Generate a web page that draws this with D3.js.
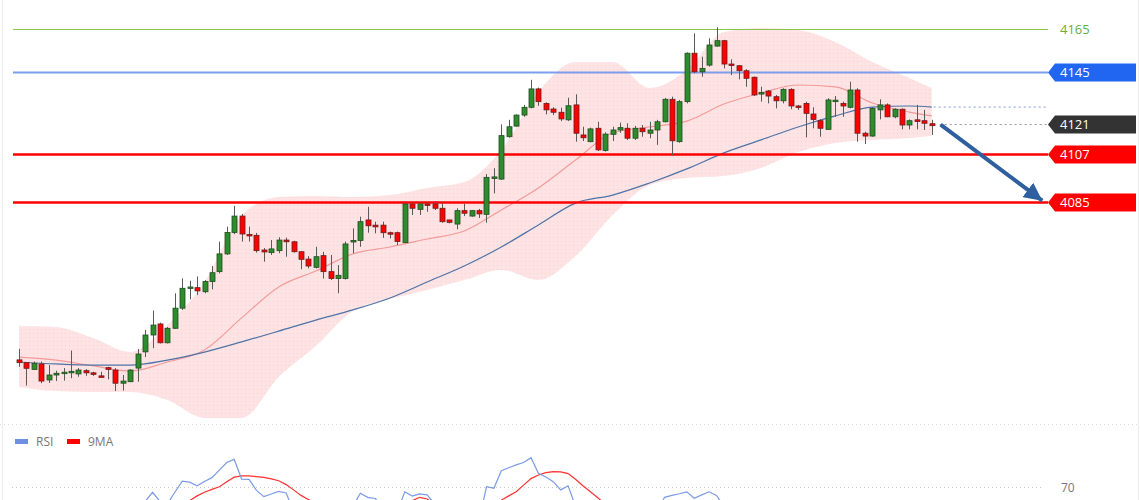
<!DOCTYPE html>
<html>
<head>
<meta charset="utf-8">
<script src="https://cdn.jsdelivr.net/npm/d3@7"></script>
<style>
  html, body { margin: 0; padding: 0; background: #fff; }
  svg { display: block; font-family: "Open Sans", "Noto Sans", sans-serif; }
</style>
</head>
<body>
<div id="chart"></div>
<script>
// candle data, one entry per bar
var candleOpen = [
  4012.0, 4010.7, 4007.6, 4010.1, 4002.7, 4005.0, 4006.0, 4006.4, 4005.5, 4007.0,
  4006.0, 4004.6, 4008.4, 4007.3, 4001.2, 4001.9, 4008.2, 4015.7, 4023.5, 4028.6,
  4019.9, 4026.6, 4035.9, 4045.4, 4045.4, 4043.5, 4048.2, 4052.8, 4061.0, 4070.9,
  4078.5, 4070.0, 4069.6, 4062.8, 4061.6, 4062.5, 4067.4, 4066.6, 4062.0, 4058.6,
  4054.8, 4060.2, 4052.8, 4049.6, 4049.6, 4066.9, 4067.2, 4076.7, 4074.3, 4074.3,
  4070.8, 4070.8, 4066.2, 4084.1, 4081.6, 4084.1, 4084.1, 4082.1, 4076.7, 4074.8,
  4081.0, 4078.5, 4081.0, 4079.3, 4096.2, 4095.6, 4115.2, 4120.1, 4125.2, 4128.8,
  4137.3, 4130.6, 4128.0, 4126.5, 4123.0, 4129.9, 4116.0, 4112.9, 4119.1, 4108.8,
  4116.3, 4118.3, 4119.1, 4114.5, 4119.1, 4116.8, 4118.3, 4122.1, 4132.5, 4112.9,
  4131.4, 4153.8, 4145.2, 4148.3, 4157.1, 4159.6, 4148.8, 4148.0, 4145.7, 4142.7,
  4135.4, 4136.3, 4133.7, 4131.8, 4137.1, 4129.4, 4130.6, 4125.7, 4122.6, 4118.6,
  4131.9, 4130.6, 4128.8, 4136.8, 4116.8, 4115.5, 4127.6, 4129.9, 4124.4, 4127.9,
  4120.6, 4123.0, 4122.6, 4121.2
];
var candleHigh = [
  4017.1, 4011.0, 4011.2, 4011.2, 4009.6, 4007.0, 4008.2, 4016.3, 4008.2, 4007.7,
  4006.5, 4006.5, 4008.8, 4008.2, 4005.0, 4007.7, 4017.0, 4025.8, 4034.8, 4029.2,
  4027.2, 4042.8, 4049.7, 4048.6, 4050.6, 4048.9, 4055.4, 4066.7, 4073.6, 4083.2,
  4079.5, 4073.6, 4070.7, 4063.7, 4067.4, 4068.7, 4068.5, 4067.1, 4062.3, 4060.0,
  4064.3, 4062.0, 4060.5, 4055.8, 4066.7, 4072.8, 4078.2, 4082.8, 4075.9, 4075.9,
  4071.3, 4071.3, 4085.1, 4084.4, 4084.4, 4084.4, 4085.4, 4084.4, 4076.7, 4082.1,
  4084.1, 4081.0, 4081.8, 4097.9, 4100.6, 4120.9, 4123.0, 4125.5, 4129.9, 4141.5,
  4137.9, 4131.1, 4128.8, 4128.6, 4133.2, 4134.8, 4119.8, 4119.4, 4122.1, 4117.2,
  4119.8, 4121.7, 4121.4, 4120.2, 4120.6, 4122.1, 4123.0, 4133.1, 4133.7, 4132.2,
  4154.2, 4163.0, 4152.2, 4160.7, 4165.8, 4160.0, 4151.0, 4148.3, 4146.4, 4143.0,
  4138.3, 4136.8, 4134.5, 4137.6, 4137.6, 4129.9, 4131.4, 4128.8, 4123.2, 4133.0,
  4134.0, 4131.4, 4140.6, 4137.6, 4117.5, 4128.8, 4132.5, 4130.6, 4128.3, 4128.3,
  4123.2, 4129.9, 4127.6, 4123.0
];
var candleLow = [
  4008.8, 4000.1, 4007.3, 4001.2, 4001.3, 4002.2, 4002.4, 4003.5, 4004.2, 4004.6,
  4004.6, 4004.1, 4003.0, 3997.6, 3997.8, 4001.7, 4001.9, 4013.3, 4017.4, 4019.6,
  4019.6, 4026.3, 4035.1, 4040.0, 4042.0, 4042.8, 4044.6, 4052.0, 4060.5, 4070.1,
  4066.7, 4066.7, 4061.6, 4057.4, 4060.5, 4061.3, 4059.7, 4061.6, 4053.9, 4054.3,
  4054.3, 4049.6, 4048.9, 4042.8, 4049.1, 4061.3, 4064.3, 4070.8, 4070.5, 4068.4,
  4068.2, 4065.1, 4066.0, 4079.0, 4079.0, 4080.5, 4081.3, 4075.4, 4075.1, 4072.4,
  4078.5, 4078.2, 4077.6, 4075.4, 4089.0, 4095.2, 4114.7, 4119.8, 4124.4, 4128.3,
  4129.5, 4125.5, 4125.2, 4122.4, 4122.4, 4112.9, 4113.2, 4112.6, 4108.6, 4108.3,
  4113.2, 4117.0, 4113.7, 4113.7, 4115.2, 4114.5, 4111.4, 4121.8, 4106.7, 4112.4,
  4130.6, 4144.5, 4142.9, 4147.6, 4156.8, 4146.8, 4143.7, 4141.7, 4138.3, 4134.0,
  4131.4, 4130.6, 4128.3, 4130.6, 4127.9, 4127.6, 4114.9, 4119.1, 4115.2, 4118.3,
  4124.4, 4124.4, 4128.3, 4112.9, 4111.8, 4115.2, 4123.2, 4124.2, 4123.7, 4118.6,
  4118.6, 4118.6, 4118.3, 4116.0
];
var candleClose = [
  4010.7, 4008.1, 4010.4, 4002.2, 4005.0, 4005.8, 4006.3, 4006.7, 4007.3, 4006.0,
  4005.8, 4004.4, 4007.6, 4001.2, 4002.2, 4007.3, 4014.7, 4023.5, 4028.1, 4019.9,
  4026.6, 4035.9, 4045.1, 4045.7, 4043.9, 4048.2, 4052.3, 4061.0, 4070.9, 4078.5,
  4070.2, 4069.4, 4062.5, 4061.9, 4063.3, 4067.4, 4066.6, 4062.0, 4058.5, 4055.4,
  4059.7, 4052.8, 4049.6, 4051.1, 4065.6, 4067.2, 4075.9, 4074.0, 4073.5, 4070.8,
  4070.5, 4066.7, 4084.1, 4082.1, 4084.1, 4084.0, 4082.1, 4075.9, 4075.6, 4081.0,
  4079.8, 4081.0, 4079.5, 4096.4, 4096.6, 4115.7, 4119.8, 4125.2, 4128.8, 4137.3,
  4131.4, 4127.6, 4126.5, 4123.4, 4129.5, 4116.8, 4114.7, 4118.8, 4109.1, 4116.4,
  4118.3, 4119.4, 4114.5, 4119.1, 4117.5, 4118.3, 4122.1, 4132.5, 4113.3, 4131.4,
  4153.8, 4145.2, 4146.8, 4157.6, 4159.6, 4148.8, 4148.3, 4145.7, 4142.2, 4134.5,
  4135.6, 4134.0, 4131.8, 4137.1, 4129.4, 4128.8, 4126.0, 4123.2, 4119.1, 4132.2,
  4132.1, 4129.4, 4136.8, 4116.8, 4115.5, 4128.3, 4129.9, 4124.4, 4127.9, 4120.6,
  4122.6, 4122.2, 4121.4, 4120.3
];

// bollinger band and moving averages, read at every 5th bar
var bandIndex = [0, 5, 10, 15, 20, 25, 30, 35, 40, 45, 50, 55, 60, 65, 70, 75, 80, 85, 90, 95, 100, 105, 110, 115, 120, 123];
var bandUpper = [4027.7, 4027.2, 4022.1, 4015.6, 4028.1, 4048.0, 4079.0, 4087.3, 4087.8, 4087.3, 4088.2, 4091.5, 4094.2,
                 4109.0, 4135.9, 4149.7, 4149.7, 4137.7, 4146.0, 4163.6, 4165.5, 4164.5, 4159.0, 4149.7, 4142.3, 4137.7];
var bandLower = [3999.5, 3997.6, 3997.1, 3997.1, 3993.4, 3985.1, 3985.1, 4004.1, 4018.4, 4034.6, 4040.1, 4044.3, 4048.9,
                 4053.6, 4048.9, 4060.0, 4079.0, 4092.9, 4096.1, 4097.0, 4100.7, 4108.1, 4112.3, 4113.7, 4114.6, 4115.5];
var maFast = [4013.3, 4011.9, 4009.2, 4006.8, 4011.0, 4016.6, 4031.4, 4045.7, 4053.1, 4061.0, 4064.2, 4067.9, 4071.6,
              4081.3, 4091.5, 4104.4, 4116.9, 4119.7, 4122.4, 4130.3, 4135.4, 4139.1, 4138.2, 4130.8, 4126.6, 4124.8];
var maSlow = [4011.0, 4010.1, 4009.6, 4009.6, 4011.9, 4015.6, 4020.3, 4025.3, 4030.4, 4035.1, 4040.6, 4048.0, 4055.4,
              4064.2, 4074.4, 4084.5, 4088.2, 4093.8, 4100.3, 4107.7, 4113.7, 4119.7, 4124.8, 4128.9, 4129.4, 4128.9];
var maSlowLast = 4128.9;

// price levels on the right
var levelValues = [4165, 4145, 4121, 4107, 4085];
var levelNames = ['4165', '4145', '4121', '4107', '4085'];
var levelKinds = ['target', 'resist', 'last', 'support', 'support'];

// projected move (bar index, price)
var projFrom = [124.2, 4120.8];
var projTo = [137.9, 4085.6];

// RSI panel
var rsiValues = [
  48, 45, 47, 42, 44, 45, 46, 46, 48, 47, 47, 46, 48, 40, 42, 48, 56, 64, 67.8, 64,
  63, 67.8, 72.4, 72, 70.5, 72.3, 73.9, 77, 80.2, 81.5, 73.3, 73.2, 68.6, 66, 67.1, 68.2, 67.5, 60, 55, 52,
  54, 50, 48, 50, 58, 62, 67.4, 65.7, 65.2, 62, 58, 60, 68, 66.2, 67.1, 66.7, 63, 58, 52, 55,
  57, 55, 56, 70.1, 69.5, 76.8, 78, 79.2, 80.2, 82.2, 75.7, 74.2, 72.2, 68.8, 70.5, 62, 58, 60, 55, 57,
  58, 59, 56, 58, 57, 59, 60, 65.7, 66.5, 67.2, 68, 65.3, 66.7, 68, 66.5, 62, 58, 56, 54, 50,
  50, 49, 48, 50, 47, 47, 45, 44, 43, 50, 50, 49, 52, 42, 42, 47, 48, 46, 47, 44,
  45, 45, 44, 43
];
var rsiMa = [
  50, 49, 48, 47, 46, 46, 46, 45, 45, 45, 45, 46, 46, 45, 45, 46, 48, 50, 53, 56,
  58, 60, 62, 64.3, 66.3, 67.8, 69.0, 70.1, 72.2, 74.1, 74.6, 74.6, 74.3, 74.0, 73.4, 72.6, 71.0, 68.8, 66.5, 64.8,
  63, 61, 59, 57, 56, 56, 56, 57, 58, 59, 60, 61, 62, 64.3, 65.7, 65.0, 63, 61, 60, 59,
  58, 58, 59, 61, 63, 64.5, 66.3, 68.0, 70.8, 73.5, 75.0, 76.0, 76.4, 76.3, 75.6, 73.2, 70.5, 68.0, 65.5, 63,
  61, 59, 58, 58, 57, 57, 58, 59, 60, 61, 62, 63, 63, 63, 62, 61, 60, 59, 58, 56,
  55, 53, 52, 51, 50, 49, 48, 47, 47, 47, 48, 48, 47, 47, 46, 46, 46, 46, 46, 46,
  46, 45, 45, 45
];
var rsiLevel = 70;

(function(d3) {
  'use strict';

  var width = 1140;
  var height = 500;

  var svg = d3.select('#chart')
    .append('svg')
    .attr('width', width)
    .attr('height', height);

  var x = d3.scaleLinear().domain([0, 123]).range([19, 931.7]);
  var y = d3.scaleLinear().domain([4085, 4165]).range([202, 29]);
  var rsiY = d3.scaleLinear().domain([0, 100]).range([655, 415]);

  var candles = candleOpen.map(function(o, i) {
    return { i: i, o: o, h: candleHigh[i], l: candleLow[i], c: candleClose[i] };
  });

  var bands = bandIndex.map(function(idx, k) {
    return { i: idx, up: bandUpper[k], lo: bandLower[k], fast: maFast[k], slow: maSlow[k] };
  });

  // frame
  svg.append('line').attr('x1', 2.5).attr('x2', 2.5).attr('y1', 0).attr('y2', height)
    .attr('stroke', '#ececec');
  svg.append('line').attr('x1', 1138.5).attr('x2', 1138.5).attr('y1', 0).attr('y2', height)
    .attr('stroke', '#ececec');
  svg.append('line').attr('x1', 0).attr('x2', width).attr('y1', 424.5).attr('y2', 424.5)
    .attr('stroke', '#d8d8d8').attr('stroke-dasharray', '1,3');

  // bollinger band
  var area = d3.area()
    .curve(d3.curveMonotoneX)
    .x(function(d) { return x(d.i); })
    .y0(function(d) { return y(d.lo); })
    .y1(function(d) { return y(d.up); });

  var defs = svg.append('defs');
  var pat = defs.append('pattern')
    .attr('id', 'bandDots')
    .attr('width', 4).attr('height', 4)
    .attr('patternUnits', 'userSpaceOnUse');
  pat.append('rect').attr('width', 4).attr('height', 4).attr('fill', '#fde3e3');
  pat.append('rect').attr('x', 1).attr('y', 1).attr('width', 1).attr('height', 1).attr('fill', '#f9d0d0');

  svg.append('path')
    .datum(bands)
    .attr('d', area)
    .attr('fill', 'url(#bandDots)');

  var lineOf = function(key) {
    return d3.line()
      .curve(d3.curveMonotoneX)
      .x(function(d) { return x(d.i); })
      .y(function(d) { return y(d[key]); });
  };

  svg.append('path')
    .datum(bands)
    .attr('d', lineOf('fast'))
    .attr('fill', 'none')
    .attr('stroke', '#f59a9a')
    .attr('stroke-width', 1.2);

  svg.append('path')
    .datum(bands)
    .attr('d', lineOf('slow'))
    .attr('fill', 'none')
    .attr('stroke', '#4f73a8')
    .attr('stroke-width', 1.2);

  // slow MA carried forward, dashed
  svg.append('line')
    .attr('x1', x(123) + 2).attr('x2', 1047)
    .attr('y1', y(maSlowLast)).attr('y2', y(maSlowLast))
    .attr('stroke', '#7f9bd0')
    .attr('stroke-dasharray', '2,3');

  // levels
  var levelColor = { target: '#8bc34a', resist: '#6d95ea', last: '#999', support: '#ff0000' };
  var boxColor = { resist: '#2166f0', last: '#333333', support: '#ff0000' };

  levelValues.forEach(function(v, k) {
    var kind = levelKinds[k];
    var yy = Math.round(y(v)) + 0.5;
    var ln = svg.append('line')
      .attr('x1', kind === 'last' ? x(123) + 8 : 13)
      .attr('x2', 1048)
      .attr('y1', yy).attr('y2', yy)
      .attr('stroke', levelColor[kind]);
    if (kind === 'target') ln.attr('stroke-width', 1);
    if (kind === 'resist') ln.attr('stroke-width', 2).attr('stroke-opacity', 0.9);
    if (kind === 'last') ln.attr('stroke-dasharray', '2,3');
    if (kind === 'support') ln.attr('stroke-width', 2.5);

    if (kind === 'target') {
      svg.append('text')
        .attr('x', 1060).attr('y', yy + 4.5)
        .attr('font-size', 13)
        .attr('fill', '#68ad3a')
        .text(levelNames[k]);
    } else {
      svg.append('polygon')
        .attr('points', [[1048, yy], [1055, yy - 9], [1136, yy - 9], [1136, yy + 9], [1055, yy + 9]].join(' '))
        .attr('fill', boxColor[kind]);
      svg.append('text')
        .attr('x', 1060).attr('y', yy + 4.5)
        .attr('font-size', 13)
        .attr('fill', '#fff')
        .text(levelNames[k]);
    }
  });

  // candles
  var candle = svg.selectAll('.candle')
    .data(candles)
    .enter()
    .append('g')
    .attr('class', 'candle');

  candle.append('line')
    .attr('x1', function(d) { return Math.round(x(d.i)) + 0.5; })
    .attr('x2', function(d) { return Math.round(x(d.i)) + 0.5; })
    .attr('y1', function(d) { return y(d.h); })
    .attr('y2', function(d) { return y(d.l); })
    .attr('stroke', '#5a5a5a');

  candle.append('rect')
    .attr('x', function(d) { return Math.round(x(d.i)) - 2; })
    .attr('width', 5)
    .attr('y', function(d) { return y(Math.max(d.o, d.c)); })
    .attr('height', function(d) { return Math.max(1.5, Math.abs(y(d.o) - y(d.c))); })
    .attr('fill', function(d) { return d.c >= d.o ? '#2e8b2e' : '#ff0000'; })
    .attr('stroke', function(d) { return d.c >= d.o ? '#1d4d1d' : '#6b1d1d'; })
    .attr('stroke-width', 0.8);

  // projection arrow
  defs.append('marker')
    .attr('id', 'head')
    .attr('markerUnits', 'userSpaceOnUse')
    .attr('markerWidth', 20).attr('markerHeight', 18)
    .attr('refX', 18).attr('refY', 9)
    .attr('orient', 'auto')
    .append('path')
    .attr('d', 'M0,0 L18,9 L0,18 Z')
    .attr('fill', '#2f5f9e');

  svg.append('line')
    .attr('x1', x(projFrom[0])).attr('y1', y(projFrom[1]))
    .attr('x2', x(projTo[0])).attr('y2', y(projTo[1]))
    .attr('stroke', '#2f5f9e')
    .attr('stroke-width', 4)
    .attr('marker-end', 'url(#head)');

  // RSI panel
  var legend = [['RSI', '#6f8fe0', 15], ['9MA', '#ff0000', 67]];
  legend.forEach(function(l) {
    svg.append('rect')
      .attr('x', l[2]).attr('y', 439).attr('width', 13).attr('height', 5)
      .attr('fill', l[1]);
    svg.append('text')
      .attr('x', l[2] + 21).attr('y', 446)
      .attr('font-size', 12)
      .attr('fill', '#777')
      .text(l[0]);
  });

  svg.append('line')
    .attr('x1', 12).attr('x2', 1041)
    .attr('y1', rsiY(rsiLevel) + 0.5).attr('y2', rsiY(rsiLevel) + 0.5)
    .attr('stroke', '#c8c8c8')
    .attr('stroke-dasharray', '1,3');
  svg.append('text')
    .attr('x', 1061).attr('y', rsiY(rsiLevel) + 4.5)
    .attr('font-size', 12)
    .attr('fill', '#777')
    .text(rsiLevel);

  var rsiLine = d3.line()
    .x(function(d, i) { return x(i); })
    .y(function(d) { return rsiY(d); });

  svg.append('path')
    .datum(rsiMa)
    .attr('d', rsiLine)
    .attr('fill', 'none')
    .attr('stroke', '#ff3030')
    .attr('stroke-width', 1.2);

  svg.append('path')
    .datum(rsiValues)
    .attr('d', rsiLine)
    .attr('fill', 'none')
    .attr('stroke', '#7b9be6')
    .attr('stroke-width', 1.2);

})(window.d3);
</script>
</body>
</html>
